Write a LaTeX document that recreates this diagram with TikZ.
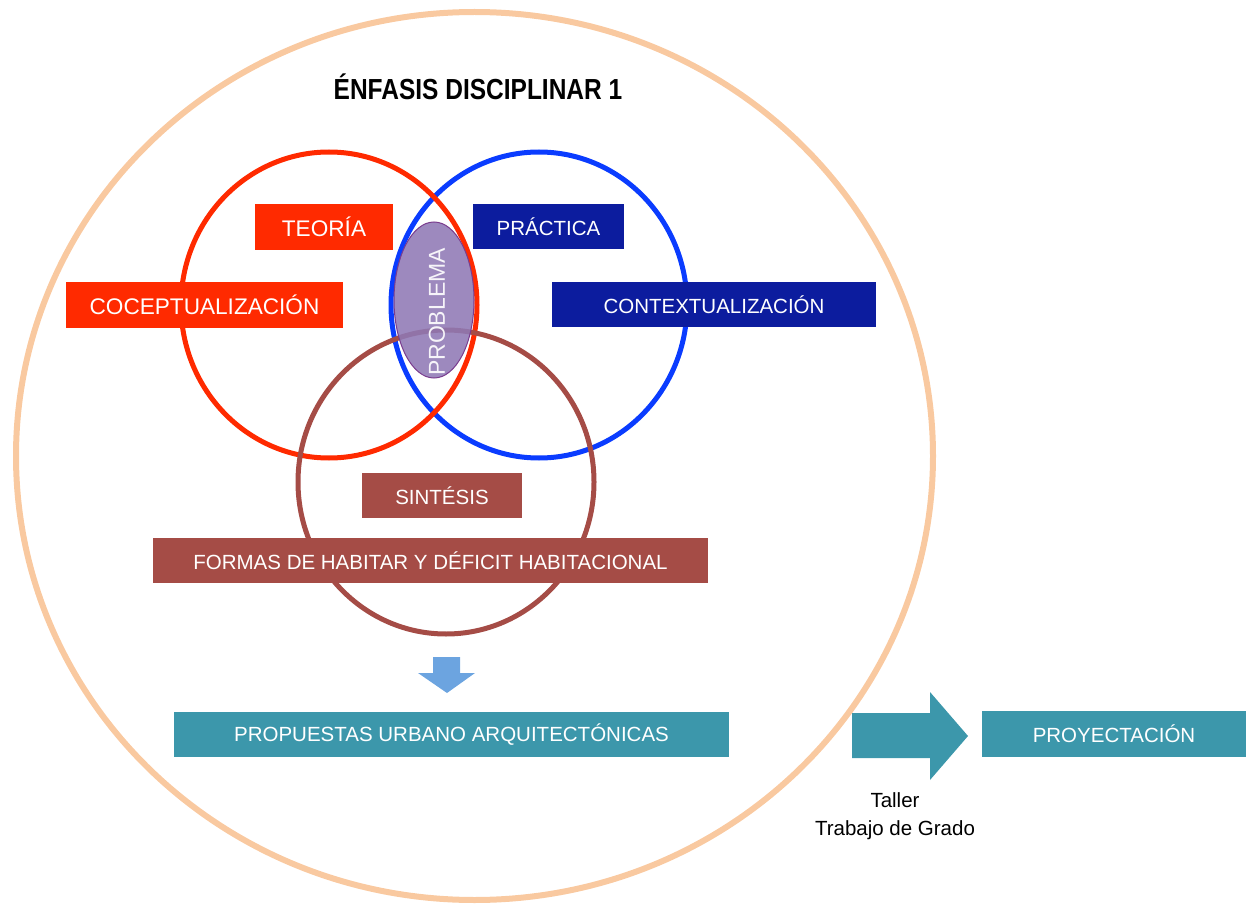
\documentclass[tikz,border=0pt]{standalone}
\usepackage{fontspec}
\usepackage{graphicx}
\usetikzlibrary{shapes.geometric}
\setmainfont{Liberation Sans}
\definecolor{peach}{HTML}{F9C9A0}
\definecolor{cred}{HTML}{FF2A00}
\definecolor{cblue}{HTML}{0A3CFF}
\definecolor{navy}{HTML}{0C1C9E}
\definecolor{cbrown}{HTML}{A54C46}
\definecolor{cpurple}{HTML}{8F79B5}
\definecolor{cpurpleline}{HTML}{7A3C8E}
\definecolor{teal}{HTML}{3C97AB}
\definecolor{lblue}{HTML}{6CA4E0}
\tikzset{
  boxnode/.style={rectangle, inner sep=0pt, text=white, font=\fontsize{20.5}{24}\selectfont},
  bigtext/.style={font=\fontsize{22.6}{26}\selectfont},
  ring/.style={line width=5pt},
}
\begin{document}
\begin{tikzpicture}[x=1pt,y=-1pt]
\useasboundingbox (0,0) rectangle (1253,909);
% big outer ellipse
\draw[peach, line width=6pt] (474.5,456) ellipse [x radius=458.5, y radius=444];
% title
\node[inner sep=0pt, font=\fontsize{29}{34}\selectfont\bfseries] (title) at (478,87) {\scalebox{0.845}[1]{ÉNFASIS DISCIPLINAR 1}};
% venn circles
\draw[ring, cblue] (539,305) ellipse [x radius=148, y radius=153];
\draw[ring, cred] (329,305) ellipse [x radius=148, y radius=153];
\draw[ring, cbrown] (446,482) ellipse [x radius=148, y radius=152];
% problem ellipse
\node[ellipse, draw=cpurpleline, line width=1pt, fill=cpurple, fill opacity=0.88, minimum width=80pt, minimum height=156pt, inner sep=0pt] (prob) at (434,300) {};
\node[rotate=90, inner sep=0pt, text=white!92!cpurple, font=\fontsize{23}{26}\selectfont] (probtext) at (437,312) {PROBLEMA};
% boxes
\node[boxnode, bigtext, fill=cred, minimum width=138pt, minimum height=46pt] (teoria) at (324,227) {TEORÍA};
\node[boxnode, fill=navy, minimum width=151pt, minimum height=45pt] (practica) at (548.5,226.5) {PRÁCTICA};
\node[boxnode, bigtext, fill=cred, minimum width=277pt, minimum height=46pt] (coc) at (204.5,305) {COCEPTUALIZACIÓN};
\node[boxnode, fill=navy, minimum width=324pt, minimum height=45pt] (cont) at (714,304.5) {CONTEXTUALIZACIÓN};
\node[boxnode, fill=cbrown, minimum width=160pt, minimum height=45pt] (sintesis) at (442,495.5) {SINTÉSIS};
\node[boxnode, fill=cbrown, minimum width=555pt, minimum height=45pt] (formas) at (430.5,560.5) {FORMAS DE HABITAR Y DÉFICIT HABITACIONAL};
\node[boxnode, fill=teal, minimum width=555pt, minimum height=45pt] (prop) at (451.5,734.5) {PROPUESTAS URBANO ARQUITECTÓNICAS};
\node[boxnode, fill=teal, minimum width=264pt, minimum height=46pt] (proy) at (1114,734) {PROYECTACIÓN};
% down block arrow
\fill[lblue] (433,657) -- (460,657) -- (460,673) -- (475,673) -- (447,693) -- (418,673) -- (433,673) -- cycle;
% right block arrow
\fill[teal] (852,713) -- (930,713) -- (930,692) -- (968,736) -- (930,780) -- (930,758) -- (852,758) -- cycle;
\node[inner sep=0pt, align=center, font=\fontsize{20.5}{28}\selectfont] (taller) at (895,816) {Taller\\Trabajo de Grado};
\end{tikzpicture}
\end{document}
